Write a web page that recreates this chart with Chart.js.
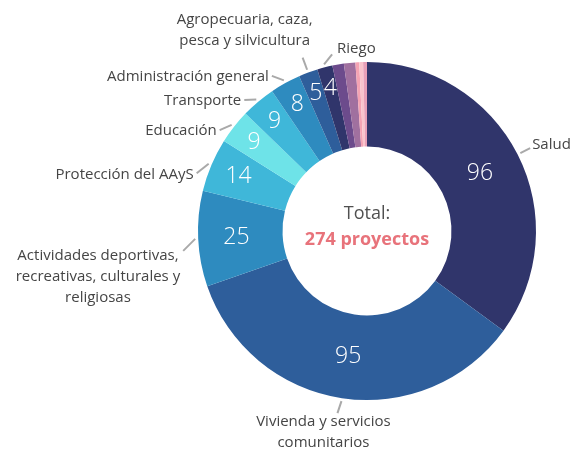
<!DOCTYPE html>
<html>
<head>
<meta charset="utf-8">
<script src="https://cdn.jsdelivr.net/npm/chart.js@4.4.1/dist/chart.umd.min.js"></script>
<style>
  html, body { margin: 0; padding: 0; background: #fff; }
  #wrap { width: 571px; height: 450px; }
</style>
</head>
<body>
<div id="wrap"><canvas id="js-donut-chart"></canvas></div>
<script>
// data (small unlabeled slices at the end)
const categories = [
  "Salud",
  "Vivienda y servicios\ncomunitarios",
  "Actividades deportivas,\nrecreativas, culturales y\nreligiosas",
  "Protección del AAyS",
  "Educación",
  "Transporte",
  "Administración general",
  "Agropecuaria, caza,\npesca y silvicultura",
  "Riego",
  "",
  "",
  "",
  "",
  "",
];
const projects = [96, 95, 25, 14, 9, 9, 8, 5, 4, 3, 3, 1, 1, 1];
const sliceColors = [
  "#30356b", "#2e5e9b", "#2e8bbf", "#3fb7d9", "#6ee3e8", "#3fb7d9", "#2e8bbf",
  "#2e5e9b", "#30356b", "#6c4b8c", "#a0709f", "#f4a3b3", "#f9c4cc", "#e8a0b8",
];
const totalTitle = "Total:";
const totalUnit = "proyectos";

const total = projects.reduce((a, b) => a + b, 0);

// labels outside + values inside + total in the hole
const donutLabels = {
  id: "donutLabels",
  afterDatasetsDraw(chart) {
    const ctx = chart.ctx;
    const arcs = chart.getDatasetMeta(0).data;
    ctx.save();
    let cx = 0, cy = 0;
    arcs.forEach((arc, i) => {
      const { x, y, startAngle, endAngle, innerRadius, outerRadius } =
        arc.getProps(["x", "y", "startAngle", "endAngle", "innerRadius", "outerRadius"]);
      cx = x; cy = y;
      if (!categories[i]) return;
      const mid = (startAngle + endAngle) / 2;
      const cos = Math.cos(mid), sin = Math.sin(mid);

      // value in the ring, pushed outward for thin slices
      const v = projects[i];
      const rv = (innerRadius + outerRadius) / 2 + Math.min(Math.max((30 - v) * 0.8, 0), 20);
      ctx.fillStyle = "#ffffff";
      ctx.font = "300 23px 'Open Sans'";
      ctx.textAlign = "center";
      ctx.textBaseline = "middle";
      ctx.fillText(v, x + rv * cos, y + rv * sin);

      // leader line + category text
      const x1 = x + (outerRadius + 3) * cos, y1 = y + (outerRadius + 3) * sin;
      let x2, y2;
      const lines = categories[i].split("\n");
      ctx.font = "15px 'Open Sans'";
      const lh = 21;
      const w = Math.max(...lines.map((l) => ctx.measureText(l).width));
      let bx, by;
      if (cos >= 0.45) {
        x2 = x + (outerRadius + 14) * cos;
        y2 = y + (outerRadius + 14) * sin;
        bx = x2 + 2 + w / 2;
        by = y2 - 3;
      } else if (cos <= -0.45) {
        x2 = x1 - 12;
        y2 = y1 + 12 - 32 * (cos + 1);
        bx = x2 - 3 - w / 2;
        by = lines.length > 1 ? y2 + 5 : y2 + 1;
      } else if (sin > 0) {
        x2 = x1 - 4;
        y2 = y1 + 12;
        bx = x2 - 14;
        by = y2 + 9;
      } else if (cos < -0.3) {
        x2 = x + (outerRadius + 16) * cos;
        y2 = y + (outerRadius + 16) * sin;
        bx = x2 + 10 - w / 2;
        by = y2 - 17 - (lines.length - 1) * lh;
      } else {
        x2 = x1 + 8;
        y2 = y1 - 10;
        bx = x2 + 5 + w / 2;
        by = y2 - 6;
      }
      ctx.strokeStyle = "#a9a9a9";
      ctx.lineWidth = 2;
      ctx.beginPath();
      ctx.moveTo(x1, y1);
      ctx.lineTo(x2, y2);
      ctx.stroke();

      ctx.fillStyle = "#454545";
      lines.forEach((l, k) => ctx.fillText(l, bx, by + k * lh));
    });

    ctx.textAlign = "center";
    ctx.textBaseline = "middle";
    ctx.fillStyle = "#505050";
    ctx.font = "18px 'Open Sans'";
    ctx.fillText(totalTitle, cx, cy - 17);
    ctx.fillStyle = "#e8737b";
    ctx.font = "bold 18px 'Open Sans'";
    ctx.fillText(total + " " + totalUnit, cx, cy + 9);
    ctx.restore();
  },
};

const donut = document.getElementById("js-donut-chart");

const myDonutChart = new Chart(donut, {
  type: "doughnut",
  data: {
    labels: categories,
    datasets: [
      {
        label: "Proyectos",
        data: projects,
        backgroundColor: sliceColors,
        borderWidth: 0,
        hoverOffset: 0,
      },
    ],
  },
  options: {
    responsive: true,
    maintainAspectRatio: false,
    animation: false,
    cutout: "50%",
    layout: {
      padding: { left: 198, right: 35, top: 62, bottom: 50 },
    },
    plugins: {
      legend: { display: false },
      tooltip: { enabled: false },
    },
  },
  plugins: [donutLabels],
});
</script>
</body>
</html>
